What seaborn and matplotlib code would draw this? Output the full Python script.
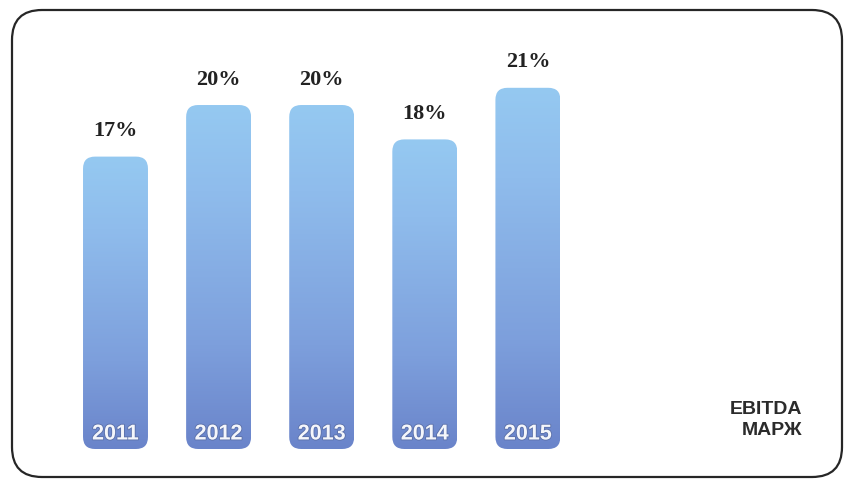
import numpy as np
import pandas as pd
import matplotlib
matplotlib.use("Agg")
import matplotlib.pyplot as plt
import seaborn as sns
from matplotlib.patches import FancyBboxPatch
from matplotlib.colors import LinearSegmentedColormap
import matplotlib.patheffects as pe

# EBITDA margin by year
years = ["2011", "2012", "2013", "2014", "2015"]
margins = [17, 20, 20, 18, 21]
value_labels = ["17%", "20%", "20%", "18%", "21%"]
caption = "EBITDA\nМАРЖ"

df = pd.DataFrame({"year": years, "margin": margins})

sns.set_theme(style="white")
W, H, DPI = 848, 481, 100
fig = plt.figure(figsize=(W / DPI, H / DPI), dpi=DPI)
fig.patch.set_facecolor("white")

# pixel-space layer for the frame and caption
frame = fig.add_axes([0, 0, 1, 1], zorder=0)
frame.set_xlim(0, W)
frame.set_ylim(H, 0)
frame.axis("off")
frame.add_patch(FancyBboxPatch((12, 11), 830, 467,
                               boxstyle="round,pad=0,rounding_size=30",
                               fill=False, edgecolor="#262626", linewidth=1.6))
frame.text(802, 420, caption, ha="right", va="center", fontsize=14,
           fontweight="bold", color="#2b2b2b", family="Liberation Sans",
           linespacing=1.25)

# data layer: category i centred at 115.5 + 103.1*i px, value 0 at 450 px
px_x, step = 115.5, 103.1
px_base, px_per_unit = 450, 17.2
ax = fig.add_axes([0, 0, 1, 1], zorder=1)
ax.patch.set_alpha(0)
sns.barplot(data=df, x="year", y="margin", ax=ax, width=0.63,
            color="#8fbfee", saturation=1)
ax.set_xlim(-px_x / step, (W - px_x) / step)
ax.set_ylim(-(H - px_base) / px_per_unit, px_base / px_per_unit)
ax.axis("off")

cmap = LinearSegmentedColormap.from_list(
    "bar", [(0.0, "#6a84ca"), (0.3, "#7d9fdc"), (0.75, "#8fbcec"),
            (1.0, "#95c9f1")])
grad = np.linspace(0, 1, 256).reshape(-1, 1)
radius_px = 12
aspect = step / px_per_unit

for bar, lab, yr in zip(list(ax.patches), value_labels, years):
    x0, y0 = bar.get_x(), bar.get_y()
    w, h = bar.get_width(), bar.get_height()
    shape = FancyBboxPatch((x0, y0), w, h,
                           boxstyle=f"round,pad=0,rounding_size={radius_px / step}",
                           mutation_aspect=aspect, facecolor="none",
                           edgecolor="none", transform=ax.transData)
    ax.add_patch(shape)
    im = ax.imshow(grad, cmap=cmap, origin="lower", aspect="auto",
                   extent=(x0, x0 + w, y0, y0 + h), zorder=2)
    im.set_clip_path(shape)
    bar.set_visible(False)

    xc = x0 + w / 2
    ax.annotate(lab, (xc, y0 + h), xytext=(0, 19), textcoords="offset points",
                ha="center", va="center", fontsize=16, fontweight="bold",
                family="Liberation Serif", color="#222222", zorder=3)
    ax.text(xc, 15 / px_per_unit, yr, ha="center", va="center", fontsize=15.5,
            fontweight="bold", family="Liberation Sans", color="#f4f6fb",
            zorder=3,
            path_effects=[pe.withStroke(linewidth=1.2, foreground="#5a6fa8")])

ax.set_xlim(-px_x / step, (W - px_x) / step)
ax.set_ylim(-(H - px_base) / px_per_unit, px_base / px_per_unit)

fig.savefig("out.png", dpi=DPI)
